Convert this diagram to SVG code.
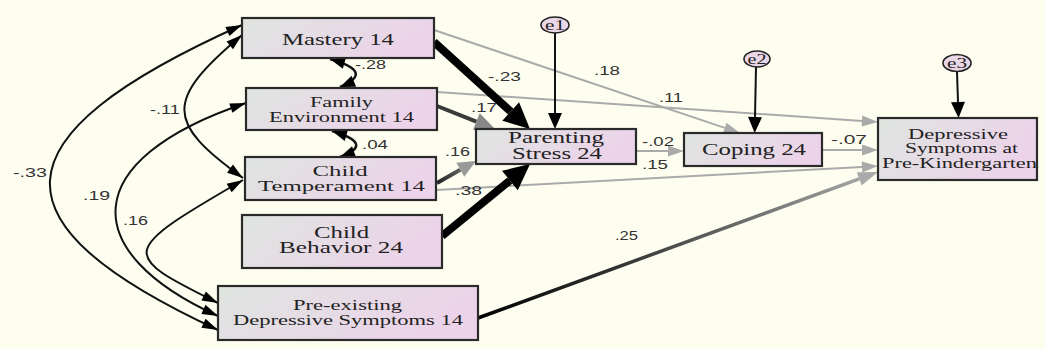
<svg xmlns="http://www.w3.org/2000/svg" width="1045" height="349" viewBox="0 0 1045 349">
<defs>
<style>
.box{stroke:#2a2a2a;stroke-width:2.2}
.nl{font-family:"Liberation Serif","Times New Roman",serif;fill:#222;text-anchor:middle}
.num{font-family:"Liberation Sans",Arial,sans-serif;font-size:12px;fill:#333}
.cov{fill:none;stroke:#111;stroke-width:2;marker-start:url(#ahCov);marker-end:url(#ahCov)}
.cov2{fill:none;stroke:#111;stroke-width:2.5;marker-start:url(#ahCov2);marker-end:url(#ahCov2)}
.gray{fill:none;stroke:#aaa;stroke-width:2;marker-end:url(#ahGray)}
.err{fill:none;stroke:#111;stroke-width:2;marker-end:url(#ahE)}
.ell{fill:#e9d6e6;stroke:#222;stroke-width:1.6}
</style>
<linearGradient id="bg" x1="0" y1="0" x2="1" y2="0.3">
<stop offset="0" stop-color="#dfe5e0"/>
<stop offset="1" stop-color="#ecd3ea"/>
</linearGradient>
<linearGradient id="gTemp" gradientUnits="userSpaceOnUse" x1="437" y1="183" x2="476" y2="161">
<stop offset="0" stop-color="#222"/>
<stop offset="1" stop-color="#888"/>
</linearGradient>
<linearGradient id="gPre" gradientUnits="userSpaceOnUse" x1="478" y1="318" x2="878" y2="172">
<stop offset="0" stop-color="#000"/>
<stop offset="0.35" stop-color="#333"/>
<stop offset="1" stop-color="#aaa"/>
</linearGradient>
<marker id="ahBig" markerUnits="userSpaceOnUse" orient="auto" refX="0" refY="0" markerWidth="30" markerHeight="30" overflow="visible"><path d="M0,-12.5 L26,0 L0,12.5 z" fill="#000"/></marker>
<marker id="ahGray" markerUnits="userSpaceOnUse" orient="auto" refX="0" refY="0" markerWidth="20" markerHeight="20" overflow="visible"><path d="M0,-5.5 L16,0 L0,5.5 z" fill="#aaa"/></marker>
<marker id="ahE" markerUnits="userSpaceOnUse" orient="auto" refX="0" refY="0" markerWidth="20" markerHeight="20" overflow="visible"><path d="M0,-7 L16,0 L0,7 z" fill="#000"/></marker>
<marker id="ahDG" markerUnits="userSpaceOnUse" orient="auto" refX="0" refY="0" markerWidth="24" markerHeight="24" overflow="visible"><path d="M0,-9 L20,0 L0,9 z" fill="#888"/></marker>
<marker id="ahTG" markerUnits="userSpaceOnUse" orient="auto" refX="0" refY="0" markerWidth="24" markerHeight="24" overflow="visible"><path d="M0,-8 L18,0 L0,8 z" fill="#999"/></marker>
<marker id="ahPre" markerUnits="userSpaceOnUse" orient="auto" refX="0" refY="0" markerWidth="24" markerHeight="24" overflow="visible"><path d="M0,-7 L20,0 L0,7 z" fill="#aaa"/></marker>
<marker id="ahCov" markerUnits="userSpaceOnUse" orient="auto-start-reverse" refX="0" refY="0" markerWidth="20" markerHeight="20" overflow="visible"><path d="M-16,-5 L0,0 L-16,5 z" fill="#000"/></marker>
<marker id="ahCov2" markerUnits="userSpaceOnUse" orient="auto-start-reverse" refX="0" refY="0" markerWidth="20" markerHeight="20" overflow="visible"><path d="M-15,-6 L0,0 L-15,6 z" fill="#000"/></marker>
</defs>
<rect x="0" y="0" width="1045" height="349" fill="#fefef0"/>

<g id="connectors">
<path class="cov" d="M242,25 C-10,138 -10,224 218,330"/>
<path class="cov" d="M246,103 C77,160 77,252 218,316"/>
<path class="cov" d="M243,180 C119,252 119,254 218,303"/>
<path class="cov" d="M242,35 C165,100 165,122 243,178"/>
<path class="cov2" d="M330,59 Q376,72 340,87"/>
<path class="cov2" d="M332,131 Q376,144 340,157"/>

<path class="gray" d="M434,30 L724.8,127.9"/>
<path class="gray" d="M437,92 L862,120.9"/>
<path class="gray" d="M436,190 L862,166.9"/>
<path class="gray" d="M636,151 L668,151"/>
<path class="gray" d="M822,150 L862,150"/>

<path d="M434,42 L510.7,111.5" stroke="#000" stroke-width="8" fill="none" marker-end="url(#ahBig)"/>
<path d="M442,236 L509.9,180.5" stroke="#000" stroke-width="8" fill="none" marker-end="url(#ahBig)"/>
<path d="M437,106 L476.4,121.6" stroke="#3a3a3a" stroke-width="4" fill="none" marker-end="url(#ahDG)"/>
<path d="M437,183 L460.3,169.8" stroke="url(#gTemp)" stroke-width="4" fill="none" marker-end="url(#ahTG)"/>
<path d="M478,318 L859.2,178.9" stroke="url(#gPre)" stroke-width="3.5" fill="none" marker-end="url(#ahPre)"/>

<path class="err" d="M555,33 L555,113"/>
<path class="err" d="M756,67 L755,117"/>
<path class="err" d="M957,72 L958,102"/>

<text class="num" x="355" y="69" textLength="31" lengthAdjust="spacingAndGlyphs">-.28</text>
<text class="num" x="150" y="114" textLength="30" lengthAdjust="spacingAndGlyphs">-.11</text>
<text class="num" x="13" y="177" textLength="34" lengthAdjust="spacingAndGlyphs">-.33</text>
<text class="num" x="83" y="200" textLength="27" lengthAdjust="spacingAndGlyphs">.19</text>
<text class="num" x="123" y="225" textLength="25" lengthAdjust="spacingAndGlyphs">.16</text>
<text class="num" x="362" y="149" textLength="26" lengthAdjust="spacingAndGlyphs">.04</text>
<text class="num" x="488" y="81" textLength="33" lengthAdjust="spacingAndGlyphs">-.23</text>
<text class="num" x="594" y="75" textLength="26" lengthAdjust="spacingAndGlyphs">.18</text>
<text class="num" x="659" y="102" textLength="24" lengthAdjust="spacingAndGlyphs">.11</text>
<text class="num" x="471" y="112" textLength="26" lengthAdjust="spacingAndGlyphs">.17</text>
<text class="num" x="445" y="156" textLength="25" lengthAdjust="spacingAndGlyphs">.16</text>
<text class="num" x="642" y="146" textLength="32" lengthAdjust="spacingAndGlyphs">-.02</text>
<text class="num" x="642" y="169" textLength="26" lengthAdjust="spacingAndGlyphs">.15</text>
<text class="num" x="455" y="195" textLength="27" lengthAdjust="spacingAndGlyphs">.38</text>
<text class="num" x="831" y="144" textLength="36" lengthAdjust="spacingAndGlyphs">-.07</text>
<text class="num" x="615" y="240" textLength="23" lengthAdjust="spacingAndGlyphs">.25</text>
</g>

<g id="mastery">
<rect class="box" x="242" y="18" width="192" height="40" fill="url(#bg)"/>
<text class="nl" x="338" y="45" font-size="17" textLength="112" lengthAdjust="spacingAndGlyphs">Mastery 14</text>
</g>
<g id="family">
<rect class="box" x="246" y="88" width="191" height="42" fill="url(#bg)"/>
<text class="nl" x="341.5" y="107" font-size="15" textLength="63" lengthAdjust="spacingAndGlyphs">Family</text>
<text class="nl" x="341.5" y="122" font-size="15" textLength="145" lengthAdjust="spacingAndGlyphs">Environment 14</text>
</g>
<g id="temperament">
<rect class="box" x="245" y="157" width="191" height="43" fill="url(#bg)"/>
<text class="nl" x="340" y="176" font-size="15.5" textLength="55" lengthAdjust="spacingAndGlyphs">Child</text>
<text class="nl" x="341.5" y="191" font-size="15.5" textLength="167" lengthAdjust="spacingAndGlyphs">Temperament 14</text>
</g>
<g id="behavior">
<rect class="box" x="242" y="215" width="200" height="53" fill="url(#bg)"/>
<text class="nl" x="341.5" y="238" font-size="16" textLength="55" lengthAdjust="spacingAndGlyphs">Child</text>
<text class="nl" x="341" y="253" font-size="16" textLength="124" lengthAdjust="spacingAndGlyphs">Behavior 24</text>
</g>
<g id="preexisting">
<rect class="box" x="218" y="286" width="260" height="54" fill="url(#bg)"/>
<text class="nl" x="347.5" y="310" font-size="14.5" textLength="109" lengthAdjust="spacingAndGlyphs">Pre-existing</text>
<text class="nl" x="348" y="325" font-size="14.5" textLength="230" lengthAdjust="spacingAndGlyphs">Depressive Symptoms 14</text>
</g>
<g id="parenting">
<rect class="box" x="476" y="129" width="160" height="35" fill="url(#bg)"/>
<text class="nl" x="556" y="143" font-size="16" textLength="96" lengthAdjust="spacingAndGlyphs">Parenting</text>
<text class="nl" x="557" y="159" font-size="16" textLength="90" lengthAdjust="spacingAndGlyphs">Stress 24</text>
</g>
<g id="coping">
<rect class="box" x="684" y="133" width="138" height="33" fill="url(#bg)"/>
<text class="nl" x="754" y="155" font-size="17" textLength="104" lengthAdjust="spacingAndGlyphs">Coping 24</text>
</g>
<g id="depressive">
<rect class="box" x="878" y="118" width="159" height="62" fill="url(#bg)"/>
<text class="nl" x="958" y="139" font-size="14" textLength="100" lengthAdjust="spacingAndGlyphs">Depressive</text>
<text class="nl" x="961.5" y="153" font-size="14" textLength="113" lengthAdjust="spacingAndGlyphs">Symptoms at</text>
<text class="nl" x="959.5" y="168" font-size="14" textLength="155" lengthAdjust="spacingAndGlyphs">Pre-Kindergarten</text>
</g>
<g id="e1">
<ellipse class="ell" cx="555" cy="25" rx="14" ry="8"/>
<text class="nl" x="555" y="30" font-size="15" textLength="20" lengthAdjust="spacingAndGlyphs">e1</text>
</g>
<g id="e2">
<ellipse class="ell" cx="757" cy="59" rx="13" ry="8"/>
<text class="nl" x="757" y="64" font-size="15" textLength="19" lengthAdjust="spacingAndGlyphs">e2</text>
</g>
<g id="e3">
<ellipse class="ell" cx="957" cy="63" rx="14" ry="8.5"/>
<text class="nl" x="957" y="68" font-size="15" textLength="20" lengthAdjust="spacingAndGlyphs">e3</text>
</g>
</svg>
